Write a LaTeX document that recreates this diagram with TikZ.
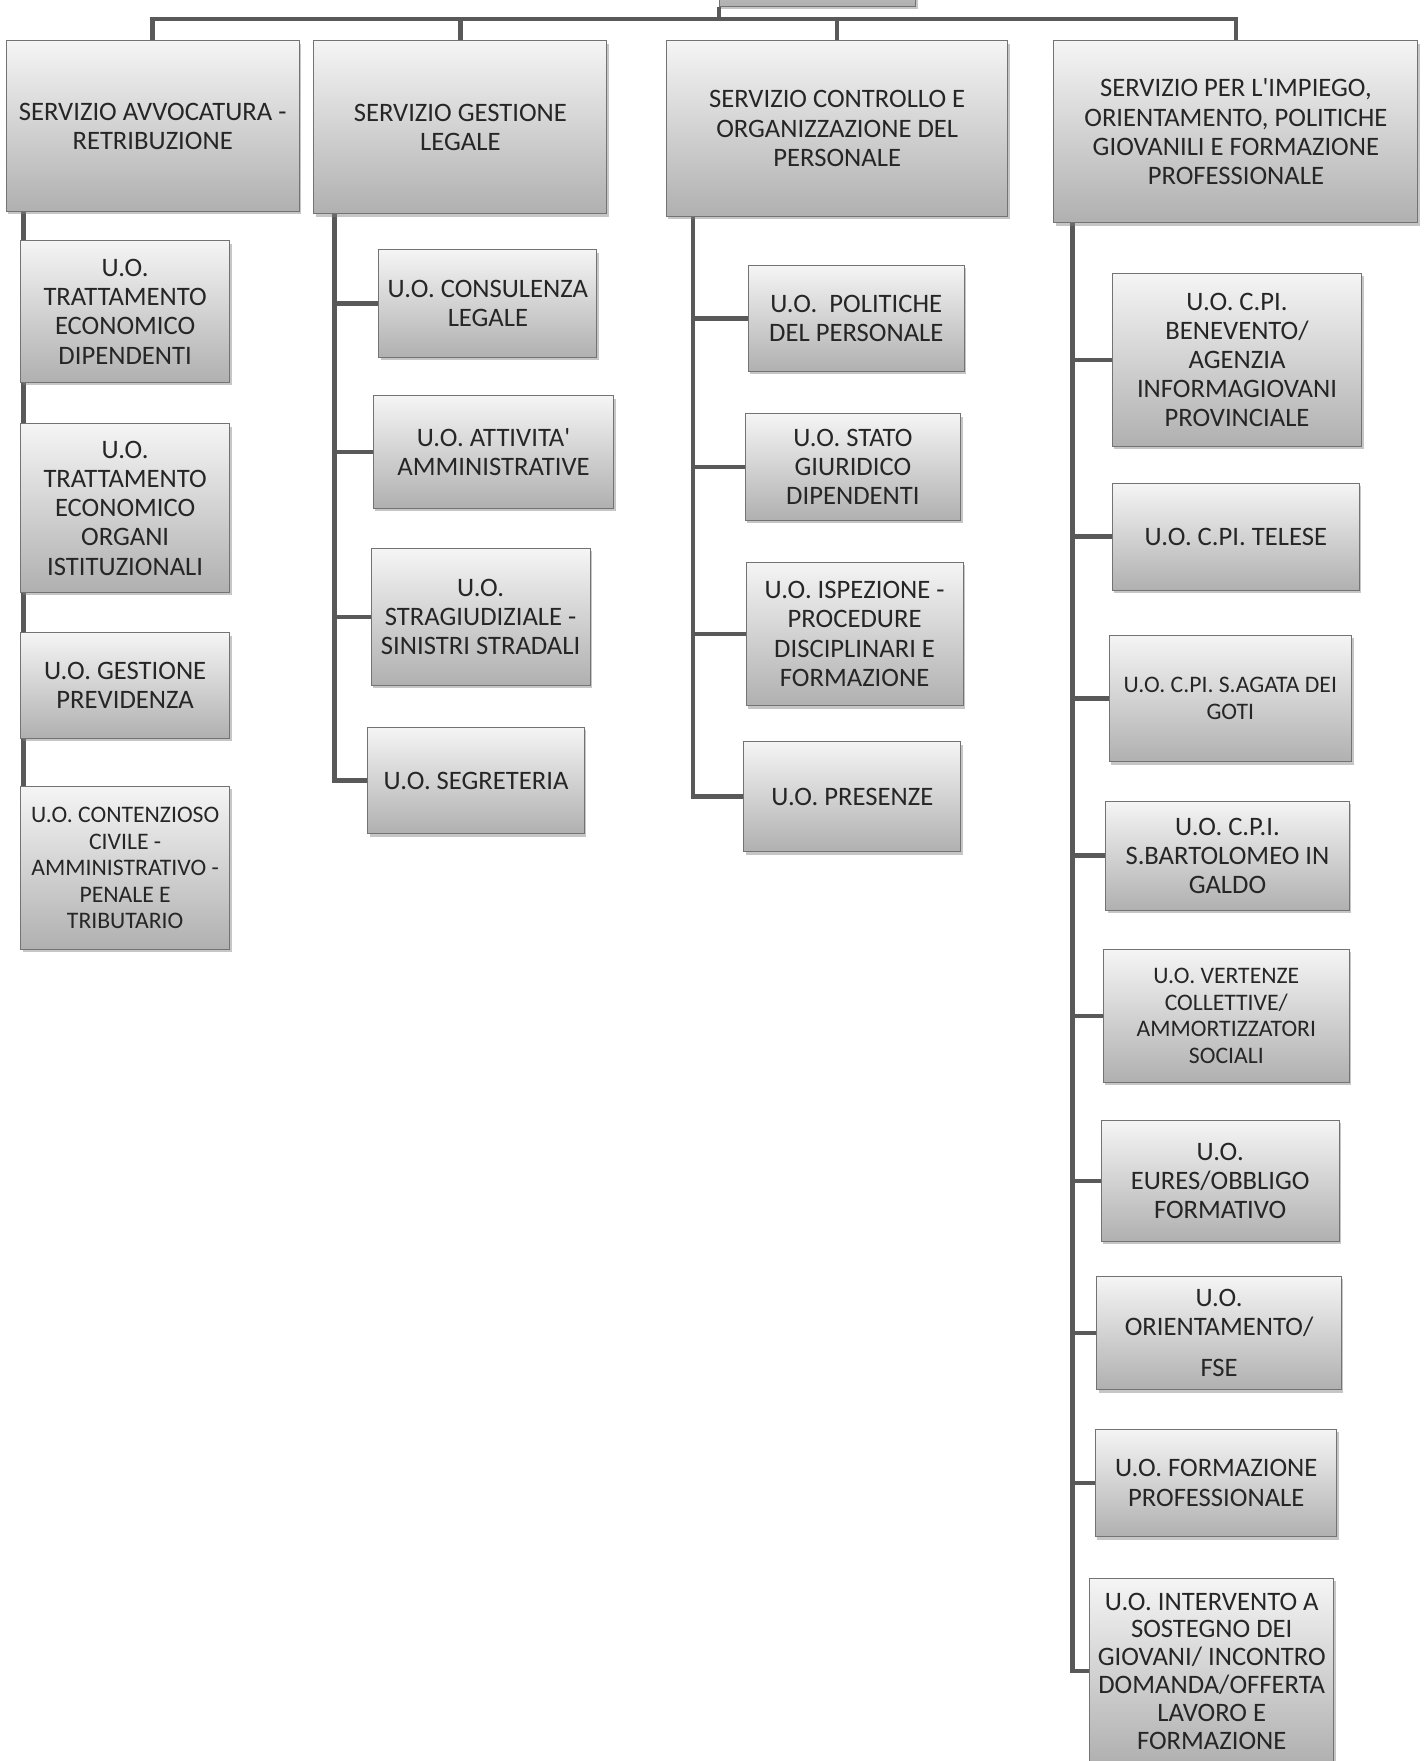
\documentclass[tikz,border=0pt]{standalone}
\usepackage{fontspec}
\setmainfont{Carlito}
\usetikzlibrary{shadows,backgrounds}
\tikzset{
  ufficio/.style={draw=black!55,line width=0.5pt,top color=gray!8,bottom color=gray!62,
    align=center,anchor=north west,inner sep=1pt,text=black!85,
    font=\fontsize{13.5}{14.8}\selectfont,
    drop shadow={shadow xshift=0.35mm,shadow yshift=-0.5mm,opacity=0.45}},
  piccolo/.style={font=\fontsize{12}{13.4}\selectfont},
  stretto/.style={font=\fontsize{13.5}{14.1}\selectfont},
  link/.style={draw=black!65,line width=2.3pt},
}
\begin{document}
\begin{tikzpicture}
\useasboundingbox (0,0) rectangle (25.36,-31.36);
% vertice (fuori pagina)
\node[ufficio,anchor=south west,minimum width=3.5cm,minimum height=1.6cm] (dir) at (12.80,-0.12) {};
% servizi
\node[ufficio,minimum width=5.22cm,minimum height=3.04cm] (A) at (0.10,-0.72)
  {SERVIZIO AVVOCATURA -\\RETRIBUZIONE};
\node[ufficio,minimum width=5.22cm,minimum height=3.08cm] (B) at (5.58,-0.72)
  {SERVIZIO GESTIONE\\LEGALE};
\node[ufficio,minimum width=6.08cm,minimum height=3.12cm] (C) at (11.86,-0.72)
  {SERVIZIO CONTROLLO E\\ORGANIZZAZIONE DEL\\PERSONALE};
\node[ufficio,minimum width=6.48cm,minimum height=3.24cm] (D) at (18.76,-0.72)
  {SERVIZIO PER L\textquotesingle IMPIEGO,\\ORIENTAMENTO, POLITICHE\\GIOVANILI E FORMAZIONE\\PROFESSIONALE};
% servizio avvocatura
\node[ufficio,minimum width=3.72cm,minimum height=2.52cm] (a1) at (0.36,-4.28)
  {U.O.\\TRATTAMENTO\\ECONOMICO\\DIPENDENTI};
\node[ufficio,minimum width=3.72cm,minimum height=3.00cm] (a2) at (0.36,-7.54)
  {U.O.\\TRATTAMENTO\\ECONOMICO\\ORGANI\\ISTITUZIONALI};
\node[ufficio,minimum width=3.72cm,minimum height=1.88cm] (a3) at (0.36,-11.26)
  {U.O. GESTIONE\\PREVIDENZA};
\node[ufficio,piccolo,minimum width=3.72cm,minimum height=2.90cm] (a4) at (0.36,-14.00)
  {U.O. CONTENZIOSO\\CIVILE -\\AMMINISTRATIVO -\\PENALE E\\TRIBUTARIO};
% servizio gestione legale
\node[ufficio,minimum width=3.88cm,minimum height=1.92cm] (b1) at (6.74,-4.44)
  {U.O. CONSULENZA\\LEGALE};
\node[ufficio,minimum width=4.28cm,minimum height=2.00cm] (b2) at (6.64,-7.04)
  {U.O. ATTIVITA\textquotesingle\\AMMINISTRATIVE};
\node[ufficio,minimum width=3.90cm,minimum height=2.44cm] (b3) at (6.60,-9.76)
  {U.O.\\STRAGIUDIZIALE -\\SINISTRI STRADALI};
\node[ufficio,minimum width=3.86cm,minimum height=1.90cm] (b4) at (6.54,-12.94)
  {U.O. SEGRETERIA};
% servizio controllo
\node[ufficio,minimum width=3.84cm,minimum height=1.88cm] (c1) at (13.32,-4.72)
  {U.O.\ \ POLITICHE\\DEL PERSONALE};
\node[ufficio,minimum width=3.84cm,minimum height=1.90cm] (c2) at (13.26,-7.36)
  {U.O. STATO\\GIURIDICO\\DIPENDENTI};
\node[ufficio,minimum width=3.86cm,minimum height=2.56cm] (c3) at (13.28,-10.00)
  {U.O. ISPEZIONE -\\PROCEDURE\\DISCIPLINARI E\\FORMAZIONE};
\node[ufficio,minimum width=3.86cm,minimum height=1.96cm] (c4) at (13.24,-13.20)
  {U.O. PRESENZE};
% servizio impiego
\node[ufficio,minimum width=4.44cm,minimum height=3.08cm] (d1) at (19.80,-4.86)
  {U.O. C.PI.\\BENEVENTO/\\AGENZIA\\INFORMAGIOVANI\\PROVINCIALE};
\node[ufficio,minimum width=4.40cm,minimum height=1.90cm] (d2) at (19.80,-8.60)
  {U.O. C.PI. TELESE};
\node[ufficio,piccolo,minimum width=4.32cm,minimum height=2.26cm] (d3) at (19.74,-11.30)
  {U.O. C.PI. S.AGATA DEI\\GOTI};
\node[ufficio,minimum width=4.34cm,minimum height=1.94cm] (d4) at (19.68,-14.26)
  {U.O. C.P.I.\\S.BARTOLOMEO IN\\GALDO};
\node[ufficio,piccolo,minimum width=4.38cm,minimum height=2.36cm] (d5) at (19.64,-16.90)
  {U.O. VERTENZE\\COLLETTIVE/\\AMMORTIZZATORI\\SOCIALI};
\node[ufficio,minimum width=4.24cm,minimum height=2.16cm] (d6) at (19.60,-19.94)
  {U.O.\\EURES/OBBLIGO\\FORMATIVO};
\node[ufficio,minimum width=4.36cm,minimum height=2.02cm] (d7) at (19.52,-22.72)
  {U.O.\\ORIENTAMENTO/\\[6pt]FSE};
\node[ufficio,minimum width=4.30cm,minimum height=1.92cm] (d8) at (19.50,-25.44)
  {U.O. FORMAZIONE\\PROFESSIONALE};
\node[ufficio,stretto,minimum width=4.34cm,minimum height=3.30cm] (d9) at (19.40,-28.10)
  {U.O. INTERVENTO A\\SOSTEGNO DEI\\GIOVANI/ INCONTRO\\DOMANDA/OFFERTA\\LAVORO E\\FORMAZIONE};
% collegamenti
\begin{scope}[on background layer]
\coordinate (bar) at (0,-0.34);
\coordinate (ta) at (0.42,0);
\coordinate (tb) at (5.96,0);
\coordinate (tc) at (12.34,0);
\coordinate (td) at (19.10,0);
\draw[link] (A.north) -- (A.north |- bar) -- (D.north |- bar) -- (D.north);
\foreach \n in {B,C} \draw[link] (\n.north) -- (\n.north |- bar);
\draw[link] (dir.south west) -- (dir.south west |- bar);
\draw[link] (A.south -| ta) |- (a4.west);
\draw[link] (B.south -| tb) |- (b4.west);
\draw[link] (C.south -| tc) |- (c4.west);
\draw[link] (D.south -| td) |- (d9.west);
\foreach \n in {b1,b2,b3} \draw[link] (tb |- \n.west) -- (\n.west);
\foreach \n in {c1,c2,c3} \draw[link] (tc |- \n.west) -- (\n.west);
\foreach \n in {d1,d2,d3,d4,d5,d6,d7,d8} \draw[link] (td |- \n.west) -- (\n.west);
\end{scope}
\end{tikzpicture}
\end{document}
